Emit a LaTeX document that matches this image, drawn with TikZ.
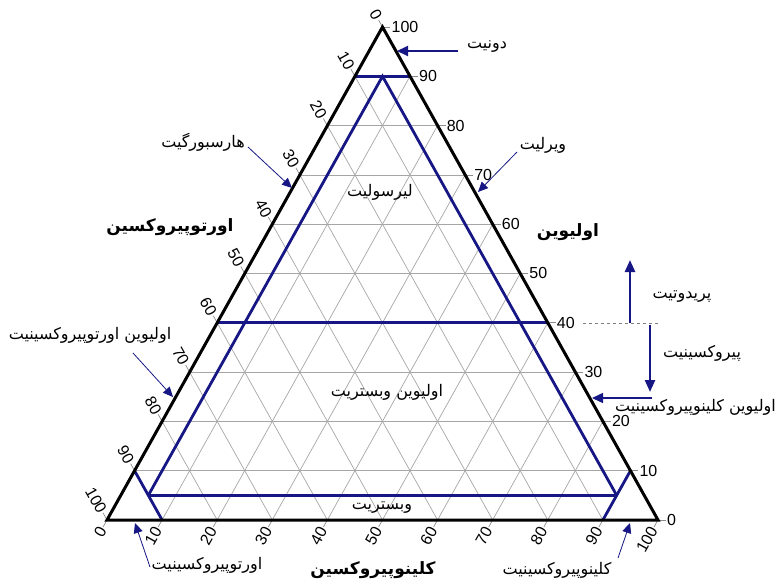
\documentclass[tikz,border=0pt]{standalone}
\usepackage{fontspec}
\setmainfont{Liberation Sans}
\newfontfamily\fa[Script=Arabic]{DejaVu Sans}
\TeXXeTstate=1
\usetikzlibrary{arrows.meta}
\definecolor{fieldblue}{RGB}{22,22,132}
\tikzset{
  gridline/.style={draw=black!35, line width=0.7pt},
  tickline/.style={draw=black!45, line width=0.7pt},
  frame/.style={draw=black, line width=3pt, line join=miter},
  field/.style={draw=fieldblue, line width=2.8pt},
  lbl/.style={font=\fa\fontsize{16}{18}\selectfont, text=black, inner sep=0pt},
  axisname/.style={font=\fa\bfseries\fontsize{17}{20}\selectfont, text=black, inner sep=0pt},
  num/.style={font=\fontsize{16}{18}\selectfont, inner sep=1pt},
  thinarrow/.style={draw=fieldblue, line width=0.8pt, -{Triangle[length=10pt,width=9pt]}},
  boldarrow/.style={draw=fieldblue, line width=2pt, -{Triangle[length=11pt,width=10pt]}},
}
\begin{document}
\begin{tikzpicture}[x=1pt,y=-1pt]
\useasboundingbox (0,0) rectangle (777,583);
\coordinate (A) at (382.5,27);
\coordinate (B) at (107,520);
\coordinate (C) at (658,520);
% grid
\foreach \i in {1,...,9}{
  \pgfmathtruncatemacro\j{10-\i}
  \draw[gridline] (barycentric cs:A=\i,B=\j,C=0) -- (barycentric cs:A=\i,B=0,C=\j);
  \draw[gridline] (barycentric cs:A=0,B=\j,C=\i) -- (barycentric cs:A=\j,B=0,C=\i);
  \draw[gridline] (barycentric cs:A=\j,B=\i,C=0) -- (barycentric cs:A=0,B=\i,C=\j);
}
% ticks and numbers
\foreach \i in {0,...,10}{
  \pgfmathtruncatemacro\j{10-\i}
  \pgfmathtruncatemacro\v{10*\i}
  \coordinate (r\i) at (barycentric cs:A=\i,B=0,C=\j);
  \draw[tickline] (r\i) -- ++(8,0) coordinate (rt\i);
  \node[num,anchor=west] (rn\i) at (rt\i) {\v};
  \coordinate (l\i) at (barycentric cs:A=\j,B=\i,C=0);
  \draw[tickline] (l\i) -- ++(-3.9,-7) coordinate (lt\i);
  \node[num,anchor=east,rotate=-60.8] (ln\i) at (lt\i) {\v};
  \coordinate (b\i) at (barycentric cs:A=0,B=\j,C=\i);
  \draw[tickline] (b\i) -- ++(-3.9,7) coordinate (bt\i);
  \node[num,anchor=east,rotate=60.8] (bn\i) at (bt\i) {\v};
}
% field boundaries
\draw[field] (barycentric cs:A=.9,B=.1,C=0) -- (barycentric cs:A=.9,B=0,C=.1);
\draw[field] (barycentric cs:A=.4,B=.6,C=0) -- (barycentric cs:A=.4,B=0,C=.6);
\coordinate (p1) at (barycentric cs:A=.05,B=.9,C=.05);
\coordinate (p2) at (barycentric cs:A=.05,B=.05,C=.9);
\coordinate (p3) at (barycentric cs:A=.9,B=.05,C=.05);
\draw[field] (p1) -- (p2);
\draw[field] (p1) -- (p3) -- (p2);
\draw[field] (barycentric cs:A=.1,B=.9,C=0) -- (barycentric cs:A=0,B=.9,C=.1);
\draw[field] (barycentric cs:A=.1,B=0,C=.9) -- (barycentric cs:A=0,B=.1,C=.9);
% frame
\draw[frame] (A) -- (B) -- (C) -- cycle;
% field names
\node[lbl] (lherz) at (380,192) {\fa\beginR لیرسولیت\endR};
\node[lbl] (olweb) at (387,392) {\fa\beginR اولیوین وبستریت\endR};
\node[lbl] (web) at (382,508) {\fa\beginR وبستریت\endR};
% axis names
\node[axisname] (olv) at (568,232) {\fa\bfseries\beginR اولیوین\endR};
\node[axisname] (opx) at (170,227) {\fa\bfseries\beginR اورتوپیروکسین\endR};
\node[axisname] (cpx) at (373,570) {\fa\bfseries\beginR کلینوپیروکسین\endR};
% labels with arrows
\node[lbl] (dun) at (487,47) {\fa\beginR دونیت\endR};
\coordinate (dunS) at (458,51); \coordinate (dunT) at (397,51);
\draw[boldarrow] (dunS) -- (dunT);
\node[lbl] (harz) at (203,142) {\fa\beginR هارسبورگیت\endR};
\coordinate (harzS) at (248,147); \coordinate (harzT) at (292,188);
\draw[thinarrow] (harzS) -- (harzT);
\node[lbl] (wehr) at (543,145) {\fa\beginR ویرلیت\endR};
\coordinate (wehrS) at (517,152); \coordinate (wehrT) at (478,192);
\draw[thinarrow] (wehrS) -- (wehrT);
\node[lbl] (oopx) at (90,335) {\fa\beginR اولیوین اورتوپیروکسینیت\endR};
\coordinate (oopxS) at (133,353); \coordinate (oopxT) at (173,397);
\draw[thinarrow] (oopxS) -- (oopxT);
\node[lbl,anchor=east] (ocpx) at (776,407) {\fa\beginR اولیوین کلینوپیروکسینیت\endR};
\coordinate (ocpxS) at (652,398); \coordinate (ocpxT) at (592,398);
\draw[fieldblue, line width=1.4pt, -{Triangle[length=11pt,width=10pt]}] (ocpxS) -- (ocpxT);
\node[lbl] (opxite) at (207,565) {\fa\beginR اورتوپیروکسینیت\endR};
\coordinate (opxS) at (150,567); \coordinate (opxT) at (135,523);
\draw[thinarrow] (opxS) -- (opxT);
\node[lbl] (cpxite) at (557,570) {\fa\beginR کلینوپیروکسینیت\endR};
\coordinate (cpxS) at (618,558); \coordinate (cpxT) at (630,523);
\draw[thinarrow] (cpxS) -- (cpxT);
% peridotite / pyroxenite divide
\coordinate (dL) at (583,323); \coordinate (dR) at (658,323);
\draw[black!50, line width=0.6pt, dash pattern=on 3pt off 3pt] (dL) -- (dR);
\coordinate (upS) at (630,323); \coordinate (upT) at (630,260);
\draw[draw=fieldblue, line width=2.4pt, -{Triangle[length=12pt,width=10pt]}] (upS) -- (upT);
\coordinate (dnS) at (650,325); \coordinate (dnT) at (650,392);
\draw[draw=fieldblue, line width=2.4pt, -{Triangle[length=12pt,width=10pt]}] (dnS) -- (dnT);
\node[lbl] (perid) at (682,297) {\fa\beginR پریدوتیت\endR};
\node[lbl] (pyrox) at (702,353) {\fa\beginR پیروکسینیت\endR};
\end{tikzpicture}
\end{document}
